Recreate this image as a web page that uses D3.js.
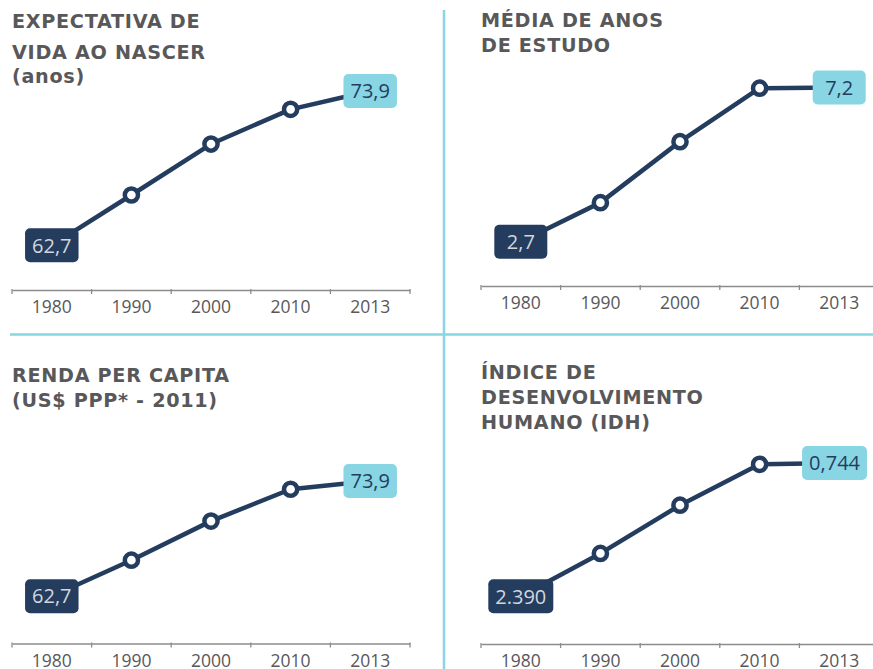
<!DOCTYPE html>
<html>
<head>
<meta charset="utf-8">
<script src="https://cdn.jsdelivr.net/npm/d3@7"></script>
<style>
  html, body { margin: 0; padding: 0; background: #ffffff; }
  svg { display: block; }
</style>
</head>
<body>
<svg id="chart" width="873" height="669"></svg>
<script>
// ---------- DATA ----------
const years = ["1980", "1990", "2000", "2010", "2013"];

const titleLife = ["EXPECTATIVA DE", "VIDA AO NASCER", "(anos)"];
const lifeExp = [62.7, 66.35, 70.05, 72.57, 73.9];
const lifeExpLabels = ["62,7", "73,9"];

const titleSchool = ["MÉDIA DE ANOS", "DE ESTUDO"];
const schooling = [2.7, 3.84, 5.62, 7.18, 7.2];
const schoolingLabels = ["2,7", "7,2"];

const titleIncome = ["RENDA PER CAPITA", "(US$ PPP* - 2011)"];
const income = [62.7, 66.2, 70.0, 73.1, 73.9];
const incomeLabels = ["62,7", "73,9"];

const titleHdi = ["ÍNDICE DE", "DESENVOLVIMENTO", "HUMANO (IDH)"];
const hdi = [0.545, 0.609, 0.681, 0.742, 0.744];
const hdiLabels = ["2.390", "0,744"];

// ---------- STYLE ----------
const NAVY = "#243d5f";
const LIGHT = "#88d5e3";
const GREY_TEXT = "#58585a";
const AXIS_GREY = "#8c8c8c";
const FONT = "'Open Sans', 'Liberation Sans', sans-serif";
const TITLE_FONT = "'DejaVu Sans', 'Open Sans', sans-serif";

const svg = d3.select("#chart");
svg.append("rect").attr("width", 873).attr("height", 669).attr("fill", "#fff");

// Dividers
svg.append("line").attr("x1", 444).attr("x2", 444).attr("y1", 10).attr("y2", 669)
  .attr("stroke", LIGHT).attr("stroke-width", 2.5);
svg.append("line").attr("x1", 10).attr("x2", 873).attr("y1", 334.5).attr("y2", 334.5)
  .attr("stroke", LIGHT).attr("stroke-width", 2.5);

const panels = [
  { title: titleLife, values: lifeExp, labels: lifeExpLabels,
    x0: 12, x1: 410, axisY: 290, yFirst: 245.3, yLast: 91, titleY: [27.5, 59, 83] },
  { title: titleSchool, values: schooling, labels: schoolingLabels,
    x0: 481, x1: 879, axisY: 286, yFirst: 241.7, yLast: 87.5, titleY: [27.3, 51.8] },
  { title: titleIncome, values: income, labels: incomeLabels,
    x0: 12, x1: 410, axisY: 643.5, yFirst: 596.2, yLast: 481, titleY: [382.3, 406.8] },
  { title: titleHdi, values: hdi, labels: hdiLabels,
    x0: 481, x1: 879, axisY: 644, yFirst: 596.3, yLast: 463, titleY: [379, 404, 429] }
];

panels.forEach(p => {
  const g = svg.append("g");

  // title
  g.selectAll("text.title").data(p.title).enter().append("text")
    .attr("class", "title")
    .attr("x", p.x0)
    .attr("y", (d, i) => p.titleY[i])
    .attr("font-family", TITLE_FONT)
    .attr("font-weight", 700)
    .attr("font-size", 19.2)
    .attr("letter-spacing", 0.7)
    .attr("fill", GREY_TEXT)
    .text(d => d);

  const x = d3.scaleBand().domain(years).range([p.x0, p.x1]).padding(0);
  const y = d3.scaleLinear().domain([p.values[0], p.values[p.values.length - 1]])
    .range([p.yFirst, p.yLast]);

  // axis
  const axis = d3.axisBottom(x).tickSize(0).tickSizeOuter(0).tickPadding(10.6);
  const ag = g.append("g").attr("transform", `translate(0,${p.axisY})`).call(axis);
  ag.select(".domain").attr("stroke", AXIS_GREY).attr("stroke-width", 1.6);
  ag.selectAll(".tick text")
    .attr("font-family", FONT).attr("font-size", 17.5).attr("fill", GREY_TEXT);

  // boundary ticks
  const bounds = years.map(d => x(d)).concat([x(years[years.length - 1]) + x.bandwidth()]);
  ag.selectAll("line.bound").data(bounds).enter().append("line")
    .attr("class", "bound")
    .attr("x1", d => d).attr("x2", d => d)
    .attr("y1", -1).attr("y2", 4)
    .attr("stroke", AXIS_GREY).attr("stroke-width", 1.3);

  const pts = years.map((yr, i) => ({ yr, v: p.values[i], i }));
  const cx = d => x(d.yr) + x.bandwidth() / 2;

  // line
  const line = d3.line().x(cx).y(d => y(d.v));
  g.append("path").datum(pts)
    .attr("d", line)
    .attr("fill", "none")
    .attr("stroke", NAVY)
    .attr("stroke-width", 4.5)
    .attr("stroke-linejoin", "round");

  // circles (middle points)
  g.selectAll("circle").data(pts.slice(1, pts.length - 1)).enter().append("circle")
    .attr("cx", cx).attr("cy", d => y(d.v))
    .attr("r", 6.6)
    .attr("fill", "#fff")
    .attr("stroke", NAVY)
    .attr("stroke-width", 4.5);

  // value boxes
  const ends = [
    { pt: pts[0], label: p.labels[0], bg: NAVY, fg: "#d3d6dc" },
    { pt: pts[pts.length - 1], label: p.labels[1], bg: LIGHT, fg: NAVY }
  ];
  ends.forEach(e => {
    const bx = g.append("g");
    const t = bx.append("text")
      .attr("font-family", FONT).attr("font-size", 20)
      .attr("text-anchor", "middle")
      .attr("fill", e.fg)
      .text(e.label);
    const tw = t.node().getComputedTextLength();
    const w = Math.max(53, tw + 14);
    const h = 34;
    let cxv = cx(e.pt);
    const maxRight = p.x1 - 12;
    if (cxv + w / 2 > maxRight) cxv = maxRight - w / 2;
    const cyv = y(e.pt.v);
    bx.insert("rect", "text")
      .attr("x", cxv - w / 2).attr("y", cyv - h / 2)
      .attr("width", w).attr("height", h)
      .attr("rx", 5).attr("ry", 5)
      .attr("fill", e.bg);
    t.attr("x", cxv).attr("y", cyv + 7.2);
  });
});
</script>
</body>
</html>
